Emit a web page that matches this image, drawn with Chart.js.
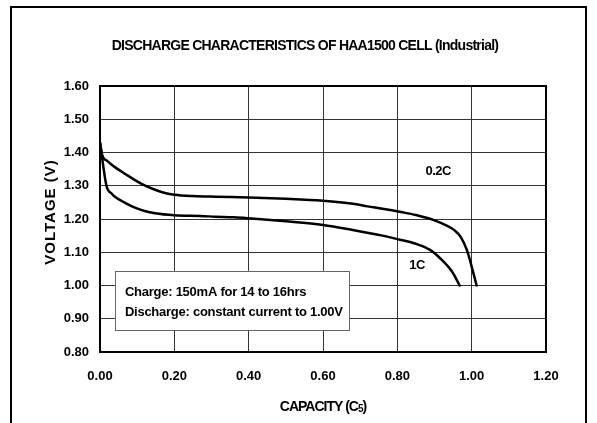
<!DOCTYPE html>
<html>
<head>
<meta charset="utf-8">
<script src="https://cdn.jsdelivr.net/npm/chart.js@4/dist/chart.umd.min.js"></script>
<style>
html,body{margin:0;padding:0;background:#fff;}
#wrap{width:597px;height:423px;position:relative;}
</style>
</head>
<body>
<div id="wrap"><canvas id="c" width="597" height="423"></canvas></div>
<script>
// ---- Data ----
const titleText = "DISCHARGE CHARACTERISTICS OF HAA1500 CELL (Industrial)";
const xAxisTitleParts = ["CAPACITY (C", "5", ")"];
const yAxisTitle = "VOLTAGE (V)";
const xTickValues = [0, 0.2, 0.4, 0.6, 0.8, 1.0, 1.2];
const yTickValues = [0.8, 0.9, 1.0, 1.1, 1.2, 1.3, 1.4, 1.5, 1.6];

const seriesNames = ["0.2C", "1C"];
const cap02 = [0, 0.006, 0.02, 0.04, 0.07, 0.094, 0.12, 0.148, 0.175, 0.2, 0.25, 0.31, 0.40, 0.50, 0.60, 0.68, 0.72, 0.76, 0.81, 0.85, 0.90, 0.933, 0.955, 0.97, 0.987, 1.0, 1.014];
const volt02 = [1.43, 1.392, 1.374, 1.356, 1.334, 1.317, 1.301, 1.288, 1.278, 1.273, 1.269, 1.267, 1.265, 1.261, 1.255, 1.246, 1.238, 1.231, 1.221, 1.212, 1.196, 1.180, 1.165, 1.147, 1.107, 1.057, 0.997];
const cap1 = [0, 0.018, 0.03, 0.04, 0.07, 0.094, 0.12, 0.148, 0.2, 0.27, 0.31, 0.36, 0.40, 0.50, 0.60, 0.68, 0.76, 0.81, 0.845, 0.888, 0.915, 0.947, 0.969];
const volt1 = [1.43, 1.297, 1.278, 1.267, 1.247, 1.234, 1.224, 1.217, 1.211, 1.209, 1.207, 1.205, 1.202, 1.193, 1.182, 1.167, 1.150, 1.137, 1.127, 1.107, 1.082, 1.042, 0.997];

// annotation (data coordinates)
const noteLines = ["Charge: 150mA for 14 to 16hrs", "Discharge: constant current to 1.00V"];
const noteBox = {x0: 0.04, x1: 0.67, y0: 1.044, y1: 0.866};
const noteTextPos = {x: 0.067, y: [0.98, 0.92]};
const seriesLabelPos = [{x: 0.91, y: 1.344}, {x: 0.853, y: 1.059}];

const FONT = "'Liberation Sans', Arial, sans-serif";

function pts(xs, ys){ return xs.map((x,i)=>({x:x, y:ys[i]})); }

const decor = {
  id: 'decor',
  afterDatasetsDraw(chart){
    const ctx = chart.ctx;
    const xs = chart.scales.x, ys = chart.scales.y;
    const ca = chart.chartArea;
    ctx.save();
    // note box
    const bx0 = xs.getPixelForValue(noteBox.x0), bx1 = xs.getPixelForValue(noteBox.x1);
    const by0 = ys.getPixelForValue(noteBox.y0), by1 = ys.getPixelForValue(noteBox.y1);
    ctx.fillStyle = '#fff';
    ctx.fillRect(bx0, by0, bx1-bx0, by1-by0);
    ctx.strokeStyle = '#666';
    ctx.lineWidth = 1;
    ctx.strokeRect(Math.round(bx0)+0.5, Math.round(by0)+0.5, Math.round(bx1-bx0), Math.round(by1-by0));
    ctx.fillStyle = '#000';
    ctx.font = "bold 13px " + FONT;
    ctx.letterSpacing = "-0.25px";
    ctx.textAlign = 'left';
    ctx.textBaseline = 'middle';
    noteLines.forEach((t,i)=>{
      ctx.fillText(t, xs.getPixelForValue(noteTextPos.x), ys.getPixelForValue(noteTextPos.y[i]));
    });
    // series labels
    ctx.textAlign = 'center';
    ctx.font = "bold 13px " + FONT;
    ctx.letterSpacing = "-0.5px";
    seriesNames.forEach((n,i)=>{
      ctx.fillText(n, xs.getPixelForValue(seriesLabelPos[i].x), ys.getPixelForValue(seriesLabelPos[i].y));
    });
    // plot frame
    ctx.strokeStyle = '#000';
    ctx.lineWidth = 2;
    ctx.strokeRect(ca.left, ca.top, ca.right-ca.left, ca.bottom-ca.top);
    ctx.restore();
  },
  afterDraw(chart){
    const ctx = chart.ctx;
    const ca = chart.chartArea;
    ctx.save();
    // outer frame
    ctx.strokeStyle = '#000';
    ctx.lineWidth = 2;
    ctx.strokeRect(11, 7, 575, 430);
    ctx.fillStyle = '#000';
    ctx.textBaseline = 'middle';
    ctx.textAlign = 'center';
    ctx.font = "bold 14px " + FONT;
    ctx.letterSpacing = "-0.75px";
    ctx.fillText(titleText, 305, 46);
    // x axis title with subscript
    ctx.textAlign = 'left';
    ctx.textBaseline = 'alphabetic';
    const bigF = "bold 14px " + FONT, smallF = "bold 10px " + FONT;
    ctx.letterSpacing = "-1px";
    ctx.font = bigF; const w0 = ctx.measureText(xAxisTitleParts[0]).width;
    const w2 = ctx.measureText(xAxisTitleParts[2]).width;
    ctx.font = smallF; const w1 = ctx.measureText(xAxisTitleParts[1]).width;
    let tx = (ca.left + ca.right)/2 - (w0+w1+w2)/2;
    const base = 411;
    ctx.font = bigF; ctx.fillText(xAxisTitleParts[0], tx, base); tx += w0;
    ctx.font = smallF; ctx.fillText(xAxisTitleParts[1], tx, base + 1); tx += w1;
    ctx.font = bigF; ctx.fillText(xAxisTitleParts[2], tx, base);
    // y axis title
    ctx.textAlign = 'center';
    ctx.textBaseline = 'middle';
    ctx.translate(51, 212);
    ctx.rotate(-Math.PI/2);
    ctx.font = "bold 15px " + FONT;
    ctx.letterSpacing = "1px";
    ctx.fillText(yAxisTitle, 0, 0);
    ctx.restore();
  }
};

new Chart(document.getElementById('c'), {
  type: 'scatter',
  data: {
    datasets: [
      {label: seriesNames[0], data: pts(cap02, volt02)},
      {label: seriesNames[1], data: pts(cap1, volt1)}
    ].map(d => Object.assign(d, {
      showLine: true, borderColor: '#000', borderWidth: 2.5, pointRadius: 0,
      cubicInterpolationMode: 'monotone', fill: false
    }))
  },
  options: {
    responsive: false,
    animation: false,
    events: [],
    layout: {padding: {left: 0, right: 51, top: 86, bottom: 0}},
    plugins: {legend: {display: false}, title: {display: false}, tooltip: {enabled: false}},
    scales: {
      x: {
        type: 'linear', min: 0, max: 1.2,
        afterBuildTicks: s => { s.ticks = xTickValues.map(v => ({value: v})); },
        afterFit: s => { s.height = 71; },
        grid: {color: '#333', lineWidth: 1, drawTicks: false},
        border: {color: '#000', width: 2},
        ticks: {color: '#000', padding: 17, maxRotation: 0, font: {family: FONT, size: 13, weight: 'bold'},
                callback: v => Number(v).toFixed(2)}
      },
      y: {
        type: 'linear', min: 0.8, max: 1.6,
        afterBuildTicks: s => { s.ticks = yTickValues.map(v => ({value: v})); },
        afterFit: s => { s.width = 100; },
        grid: {color: '#333', lineWidth: 1, drawTicks: false},
        border: {color: '#000', width: 2},
        ticks: {color: '#000', padding: 11, font: {family: FONT, size: 13, weight: 'bold'},
                callback: v => Number(v).toFixed(2)}
      }
    }
  },
  plugins: [decor]
});
</script>
</body>
</html>
